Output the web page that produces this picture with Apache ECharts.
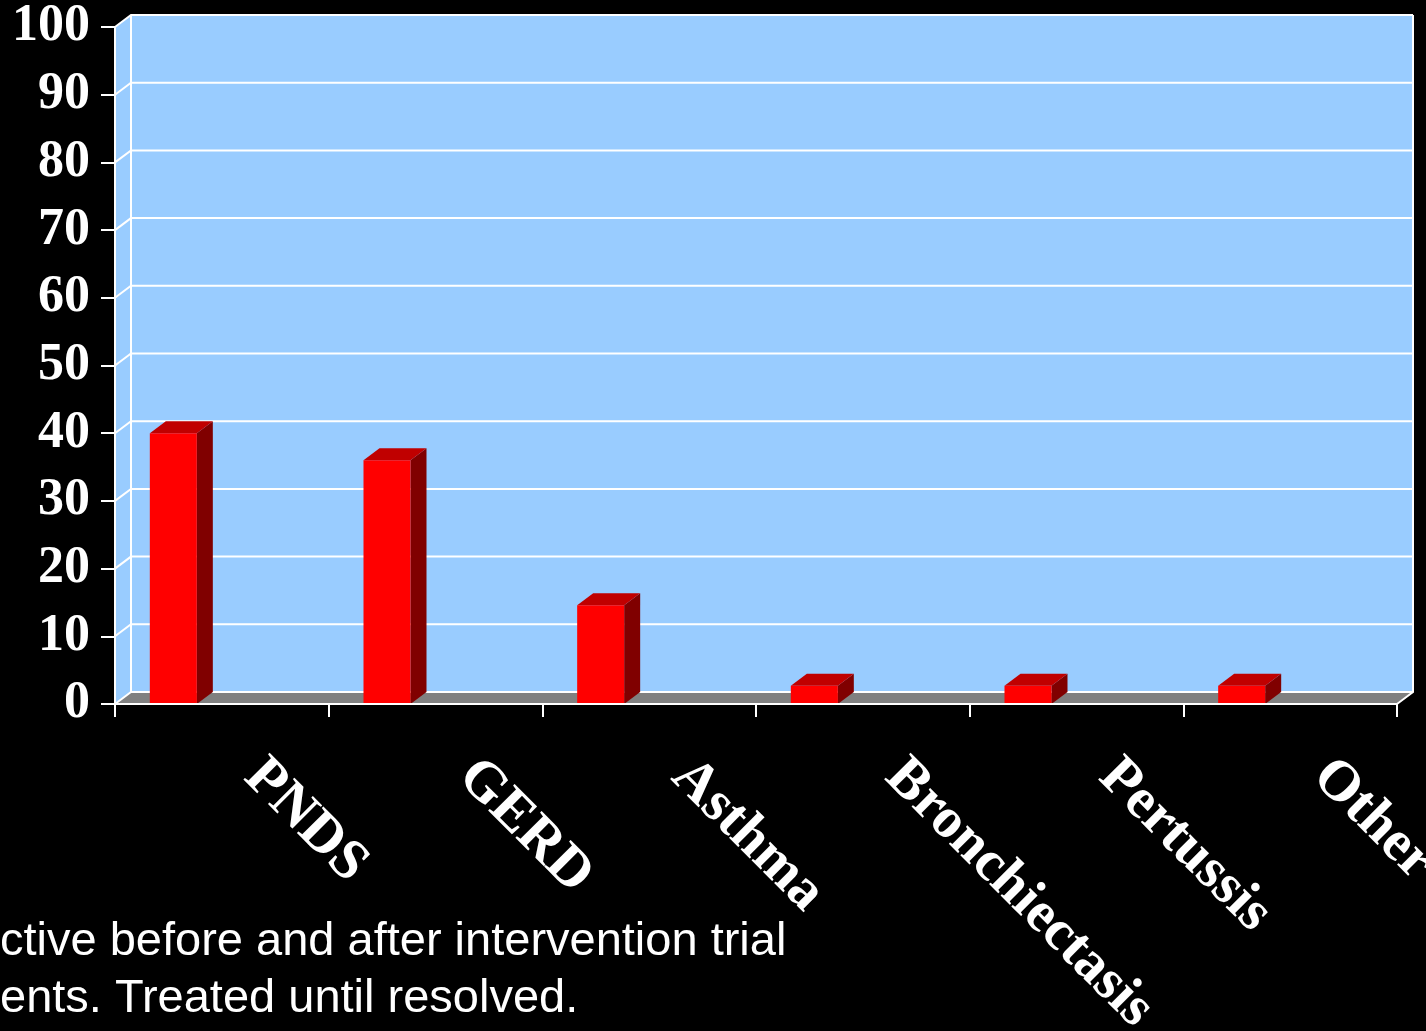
<!DOCTYPE html>
<html>
<head>
<meta charset="utf-8">
<style>
  html, body { margin: 0; padding: 0; background: #000; }
  #chart { width: 1426px; height: 1031px; }
</style>
<script src="https://cdn.jsdelivr.net/npm/echarts@6/dist/echarts.min.js"></script>
</head>
<body>
<div id="chart"></div>
<script>
// Diagnoses found, percent of patients
const categories = ['PNDS', 'GERD', 'Asthma', 'Bronchiectasis', 'Pertussis', 'Other'];
const percentValues = [40, 36, 14.6, 2.7, 2.7, 2.7];
const yTickValues = [0, 10, 20, 30, 40, 50, 60, 70, 80, 90, 100];
const footnoteLines = [
  'ctive before and after intervention trial',
  'ents. Treated until resolved.'
];

// 3-D depth offset of the walls and columns
const DEPTH_X = 16;
const DEPTH_Y = -12;

const WALL_FILL = '#99CCFF';
const FLOOR_FILL = '#808080';
const GRID_WHITE = '#FFFFFF';

const chart = echarts.init(document.getElementById('chart'), null, { renderer: 'canvas' });

function renderWalls(params, api) {
  const cs = params.coordSys;
  const x0 = cs.x, x1 = cs.x + cs.width;
  const yTop = cs.y, yBot = cs.y + cs.height;
  const children = [];
  // left side wall
  children.push({
    type: 'polygon',
    shape: { points: [[x0, yTop], [x0 + DEPTH_X, yTop + DEPTH_Y], [x0 + DEPTH_X, yBot + DEPTH_Y], [x0, yBot]] },
    style: { fill: WALL_FILL }
  });
  // back wall
  children.push({
    type: 'rect',
    shape: { x: x0 + DEPTH_X, y: yTop + DEPTH_Y, width: cs.width, height: cs.height },
    style: { fill: WALL_FILL }
  });
  // floor
  children.push({
    type: 'polygon',
    shape: { points: [[x0, yBot], [x1, yBot], [x1 + DEPTH_X, yBot + DEPTH_Y], [x0 + DEPTH_X, yBot + DEPTH_Y]] },
    style: { fill: FLOOR_FILL }
  });
  // gridlines running across the side wall and the back wall
  yTickValues.forEach(function (v) {
    const y = api.coord([0, v])[1];
    children.push({
      type: 'polyline',
      shape: { points: [[x0, y], [x0 + DEPTH_X, y + DEPTH_Y], [x1 + DEPTH_X, y + DEPTH_Y]] },
      style: { stroke: GRID_WHITE, lineWidth: 2, fill: null }
    });
  });
  // wall edges
  children.push({
    type: 'line',
    shape: { x1: x0 + DEPTH_X, y1: yTop + DEPTH_Y, x2: x0 + DEPTH_X, y2: yBot + DEPTH_Y },
    style: { stroke: GRID_WHITE, lineWidth: 2 }
  });
  children.push({
    type: 'polyline',
    shape: { points: [[x1 + DEPTH_X, yTop + DEPTH_Y], [x1 + DEPTH_X, yBot + DEPTH_Y], [x1, yBot]] },
    style: { stroke: GRID_WHITE, lineWidth: 2, fill: null }
  });
  return { type: 'group', children: children };
}

function renderColumn(params, api) {
  const idx = api.value(0);
  const top = api.coord([idx, api.value(1)]);
  const base = api.coord([idx, 0]);
  const band = api.size([1, 0])[0];
  const left = top[0] - band * 0.337;
  const right = top[0] - band * 0.117;
  const yT = top[1], yB = base[1];
  return {
    type: 'group',
    children: [
      { // right side face
        type: 'polygon',
        shape: { points: [[right, yT], [right + DEPTH_X, yT + DEPTH_Y], [right + DEPTH_X, yB + DEPTH_Y], [right, yB]] },
        style: { fill: '#800000' }
      },
      { // top face
        type: 'polygon',
        shape: { points: [[left, yT], [right, yT], [right + DEPTH_X, yT + DEPTH_Y], [left + DEPTH_X, yT + DEPTH_Y]] },
        style: { fill: '#C00000' }
      },
      { // front face
        type: 'rect',
        shape: { x: left, y: yT, width: right - left, height: yB - yT },
        style: { fill: '#FF0000' }
      }
    ]
  };
}

const option = {
  backgroundColor: '#000000',
  animation: false,
  grid: { left: 115, right: 29, top: 27, bottom: 327, containLabel: false, outerBoundsMode: 'none' },
  xAxis: {
    type: 'category',
    data: categories,
    boundaryGap: true,
    z: 10,
    axisLine: { show: true, lineStyle: { color: '#FFFFFF', width: 2 } },
    axisTick: { show: true, length: 13, lineStyle: { color: '#FFFFFF', width: 2 } },
    axisLabel: {
      interval: 0,
      rotate: -45,
      margin: 33,
      padding: [0, 0, 0, 44],
      color: '#FFFFFF',
      fontFamily: '"Liberation Serif", serif',
      fontWeight: 'bold',
      fontSize: 57
    },
    splitLine: { show: false }
  },
  yAxis: {
    type: 'value',
    min: 0,
    max: 100,
    interval: 10,
    z: 10,
    axisLine: { show: true, lineStyle: { color: '#FFFFFF', width: 2 } },
    axisTick: { show: true, length: 14, lineStyle: { color: '#FFFFFF', width: 2 } },
    axisLabel: {
      margin: 25,
      color: '#FFFFFF',
      fontFamily: '"Liberation Serif", serif',
      fontWeight: 'bold',
      fontSize: 52
    },
    splitLine: { show: false }
  },
  series: [
    {
      type: 'custom',
      name: 'walls',
      z: 1,
      silent: true,
      renderItem: renderWalls,
      data: [[0, 0]]
    },
    {
      type: 'custom',
      name: 'Percent',
      z: 2,
      renderItem: renderColumn,
      encode: { x: 0, y: 1 },
      data: percentValues.map(function (v, i) { return [i, v]; })
    }
  ],
  graphic: footnoteLines.map(function (t, i) {
    return {
      type: 'text',
      x: 0,
      y: 942 + i * 57,
      style: {
        text: t,
        fill: '#FFFFFF',
        font: '47px "Liberation Sans", Arial, sans-serif',
        verticalAlign: 'middle',
        align: 'left'
      }
    };
  })
};

chart.setOption(option);
</script>
</body>
</html>
